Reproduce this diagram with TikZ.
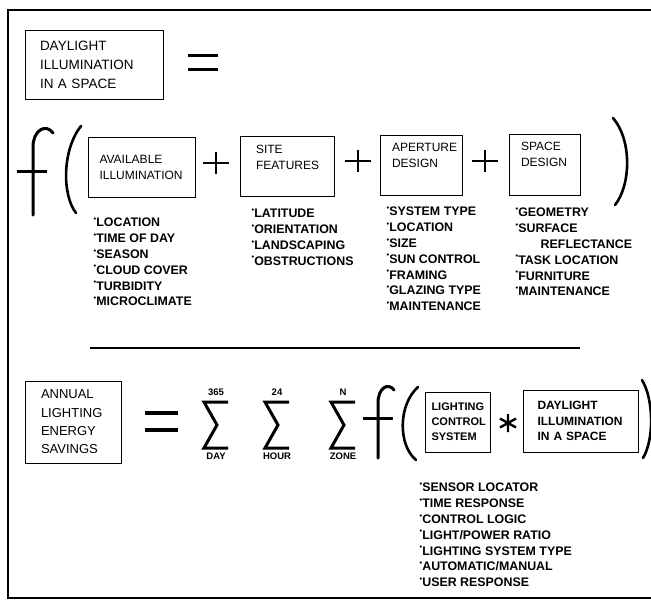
\documentclass[tikz,border=0pt]{standalone}
\usepackage{fontspec}
\setmainfont{Liberation Sans}
\usetikzlibrary{positioning}
\tikzset{
  box/.style={draw, line width=1pt, inner sep=0pt, align=left},
  item/.style={inner sep=0pt, align=left, font=\fontsize{12.4}{15.9}\selectfont\bfseries},
  limit/.style={inner sep=0pt, font=\fontsize{9.5}{10}\selectfont\bfseries},
  sym/.style={line width=2.4pt},
  curly/.style={line width=2.6pt, line cap=round},
}
\newcommand{\itm}{\raisebox{.42em}{\fontsize{7.5}{7.5}\selectfont\textbullet}}
\newcommand{\lowstrut}[1]{\rule[-#1]{0pt}{0pt}}

\begin{document}
\begin{tikzpicture}[x=1pt, y=-1pt]
    \useasboundingbox (0,0) rectangle (651,608);
    % frame
    \draw [line width=1.2pt] (651,10) -- (8,10) -- (8,598) -- (651,598);

    % first equation
    \node (dl) [box, minimum width=138pt, minimum height=69pt, text width=108pt, font=\fontsize{13.5}{19}\selectfont] at (94,64.5) {DAYLIGHT\\ILLUMINATION\\IN A SPACE};
    \draw [sym, line width=3pt] (188,55) -- (218,55) (188,69) -- (218,69);

    \draw [curly, line width=3pt] (33,215) -- (33,147) .. controls (33,130) and (46,123) .. (53,133);
    \draw [sym, line width=3pt] (17,171) -- (47,171);
    \draw [curly] (81,126) .. controls (62,150) and (62,195) .. (76,213);

    \node (avail) [box, minimum width=107pt, minimum height=60pt, text width=84pt, font=\fontsize{12}{16}\selectfont] at (141.5,167) {AVAILABLE\\ILLUMINATION};
    \node (site) [box, minimum width=94pt, minimum height=60pt, text width=62pt, font=\fontsize{12}{16}\selectfont] at (287,166) {SITE\\FEATURES\lowstrut{18pt}};
    \node (aper) [box, minimum width=82pt, minimum height=60pt, text width=58pt, font=\fontsize{12}{16}\selectfont] at (421,165) {APERTURE\\DESIGN\lowstrut{20pt}};
    \node (space) [box, minimum width=71pt, minimum height=61pt, text width=47pt, font=\fontsize{12}{16}\selectfont] at (544.5,164.5) {SPACE\\DESIGN\lowstrut{20pt}};
    \foreach \px/\py in {216/163, 358/161, 485/161}
        \draw [sym] (\px-13,\py) -- (\px+13,\py) (\px,\py-11) -- (\px,\py+11);
    \draw [curly] (613,118) .. controls (632,140) and (631,185) .. (615,205);

    \node (availlist) [item, below right=20pt and 6pt of avail.south west] {\itm LOCATION\\\itm TIME OF DAY\\\itm SEASON\\\itm CLOUD COVER\\\itm TURBIDITY\\\itm MICROCLIMATE};
    \node (sitelist) [item, below right=12pt and 12pt of site.south west] {\itm LATITUDE\\\itm ORIENTATION\\\itm LANDSCAPING\\\itm OBSTRUCTIONS};
    \node (aperlist) [item, below right=11pt and 7pt of aper.south west] {\itm SYSTEM TYPE\\\itm LOCATION\\\itm SIZE\\\itm SUN CONTROL\\\itm FRAMING\\\itm GLAZING TYPE\\\itm MAINTENANCE};
    \node (spacelist) [item, below right=12pt and 7pt of space.south west] {\itm GEOMETRY\\\itm SURFACE\\\hspace*{25pt}REFLECTANCE\\\itm TASK LOCATION\\\itm FURNITURE\\\itm MAINTENANCE};

    \draw [line width=1.2pt] (90,348) -- (580,348);

    % second equation
    \node (annual) [box, minimum width=96pt, minimum height=82pt, text width=64pt, font=\fontsize{13}{18.3}\selectfont] at (73,422) {ANNUAL\\LIGHTING\\ENERGY\\SAVINGS};
    \draw [sym, line width=4pt] (145,413) -- (178,413) (145,430) -- (178,430);

    \foreach \sx/\up/\lo/\nm in {204/365/DAY/day, 265/24/HOUR/hour, 331/N/ZONE/zone} {
        \draw [sym, line width=3pt] (\sx+24,402) -- (\sx,402) -- (\sx+13,425) -- (\sx,448) -- (\sx+24,448);
        \node (\nm-up) [limit] at (\sx+12,392) {\up};
        \node (\nm-lo) [limit] at (\sx+12,456) {\lo};
    }

    \draw [curly, line width=3pt] (378,458) -- (378,403) .. controls (378,388) and (388,382) .. (394,390);
    \draw [sym, line width=3pt] (363,418) -- (393,418);
    \draw [curly] (418,387) .. controls (398,405) and (398,445) .. (416,460);

    \node (lcs) [box, minimum width=65pt, minimum height=60pt, text width=52pt, font=\fontsize{11}{15}\selectfont\bfseries] at (457.5,422) {LIGHTING\\CONTROL\\SYSTEM};
    \draw [sym] (508,414) -- (508,432) (500,418.5) -- (516,427.5) (500,427.5) -- (516,418.5);
    \node (dl2) [box, minimum width=115pt, minimum height=62pt, text width=86pt, font=\fontsize{12}{15.5}\selectfont\bfseries] at (580.5,421) {DAYLIGHT\\ILLUMINATION\\IN A SPACE};
    \draw [curly] (642,380) .. controls (654,400) and (654,440) .. (643,458);

    \node (lcslist) [item, below right=30pt and -5pt of lcs.south west] {\itm SENSOR LOCATOR\\\itm TIME RESPONSE\\\itm CONTROL LOGIC\\\itm LIGHT/POWER RATIO\\\itm LIGHTING SYSTEM TYPE\\\itm AUTOMATIC/MANUAL\\\itm USER RESPONSE};
\end{tikzpicture}
\end{document}
